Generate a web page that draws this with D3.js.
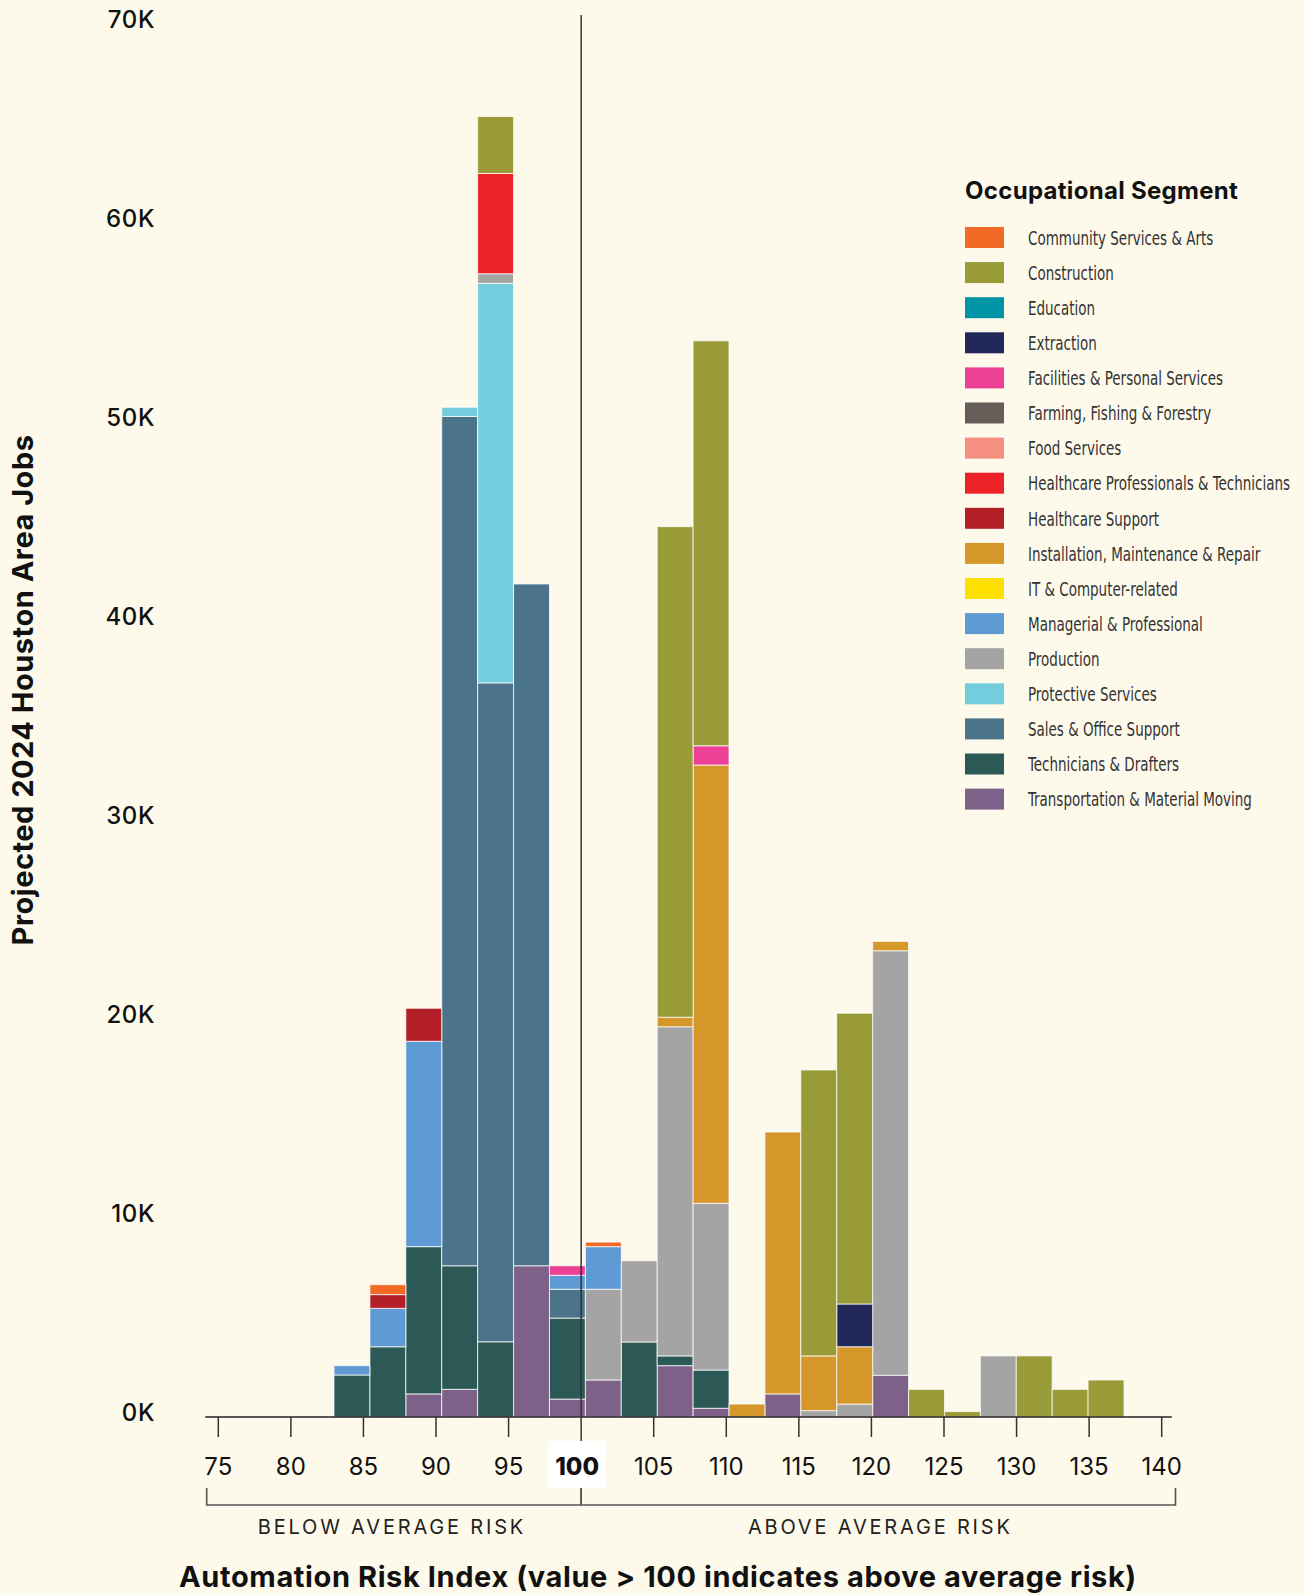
<!DOCTYPE html>
<html>
<head>
<meta charset="utf-8">
<script src="https://cdn.jsdelivr.net/npm/d3@7"></script>
<style>
  html, body { margin: 0; padding: 0; background: #FEFAEB; }
  svg { display: block; }
</style>
</head>
<body>
<svg id="chart" width="1304" height="1595"></svg>
<script>
// ---------- DATA ----------
// histogram bins (lower edge of each Automation Risk Index bin)
const bins = [82.5, 85, 87.5, 90, 92.5, 95, 97.5, 100, 102.5, 105, 107.5, 110, 112.5, 115, 117.5, 120, 122.5, 125, 127.5, 130, 132.5, 135];

// legend order (alphabetical); stacking is reverse of this order
const segments = [
  "Community Services & Arts", "Construction", "Education", "Extraction",
  "Facilities & Personal Services", "Farming, Fishing & Forestry", "Food Services",
  "Healthcare Professionals & Technicians", "Healthcare Support",
  "Installation, Maintenance & Repair", "IT & Computer-related",
  "Managerial & Professional", "Production", "Protective Services",
  "Sales & Office Support", "Technicians & Drafters", "Transportation & Material Moving"
];
const segmentColors = [
  "#F26A25", "#999A38", "#0095A5", "#22285A", "#EC4096", "#675D58", "#F58F82",
  "#EC2227", "#B31F27", "#D6972A", "#FFE100", "#5E9BD4", "#A3A4A3", "#73CDDD",
  "#4B7389", "#2C5955", "#7D6188"
];

// projected 2024 jobs per bin for each segment
const communityServices = [0, 500, 0, 0, 0, 0, 0, 230, 0, 0, 0, 0, 0, 0, 0, 0, 0, 0, 0, 0, 0, 0];
const construction      = [0, 0, 0, 0, 2860, 0, 0, 0, 0, 24650, 20350, 0, 0, 14370, 14610, 0, 1390, 270, 0, 3070, 1390, 1860];
const education         = [0, 0, 0, 0, 0, 0, 0, 0, 0, 0, 0, 0, 0, 0, 0, 0, 0, 0, 0, 0, 0, 0];
const extraction        = [0, 0, 0, 0, 0, 0, 0, 0, 0, 0, 0, 0, 0, 0, 2150, 0, 0, 0, 0, 0, 0, 0];
const facilities        = [0, 0, 0, 0, 0, 0, 480, 0, 0, 0, 970, 0, 0, 0, 0, 0, 0, 0, 0, 0, 0, 0];
const farming           = [0, 0, 0, 0, 0, 0, 0, 0, 0, 0, 0, 0, 0, 0, 0, 0, 0, 0, 0, 0, 0, 0];
const foodServices      = [0, 0, 0, 0, 0, 0, 0, 0, 0, 0, 0, 0, 0, 0, 0, 0, 0, 0, 0, 0, 0, 0];
const healthcarePros    = [0, 0, 0, 0, 5040, 0, 0, 0, 0, 0, 0, 0, 0, 0, 0, 0, 0, 0, 0, 0, 0, 0];
const healthcareSupport = [0, 690, 1660, 0, 0, 0, 0, 0, 0, 0, 0, 0, 0, 0, 0, 0, 0, 0, 0, 0, 0, 0];
const installation      = [0, 0, 0, 0, 0, 0, 0, 0, 0, 480, 22020, 650, 13160, 2750, 2880, 470, 0, 0, 0, 0, 0, 0];
const itComputer        = [0, 0, 0, 0, 0, 0, 0, 0, 0, 0, 0, 0, 0, 0, 0, 0, 0, 0, 0, 0, 0, 0];
const managerial        = [470, 1930, 10320, 0, 0, 0, 700, 2140, 0, 0, 0, 0, 0, 0, 0, 0, 0, 0, 0, 0, 0, 0];
const production        = [0, 0, 0, 0, 480, 0, 0, 4560, 4080, 16540, 8380, 0, 0, 320, 650, 21330, 0, 0, 3070, 0, 0, 0];
const protective        = [0, 0, 0, 460, 20080, 0, 0, 0, 0, 0, 0, 0, 0, 0, 0, 0, 0, 0, 0, 0, 0, 0];
const salesOffice       = [0, 0, 0, 42680, 33110, 34260, 1450, 0, 0, 0, 0, 0, 0, 0, 0, 0, 0, 0, 0, 0, 0, 0];
const technicians       = [2110, 3530, 7400, 6210, 3780, 0, 4070, 0, 3770, 490, 1920, 0, 0, 0, 0, 0, 0, 0, 0, 0, 0, 0];
const transportation    = [0, 0, 1160, 1390, 0, 7600, 900, 1860, 0, 2580, 440, 0, 1160, 0, 0, 2100, 0, 0, 0, 0, 0, 0];

const seriesValues = [communityServices, construction, education, extraction, facilities, farming,
  foodServices, healthcarePros, healthcareSupport, installation, itComputer, managerial,
  production, protective, salesOffice, technicians, transportation];

const yTicks = [0, 10000, 20000, 30000, 40000, 50000, 60000, 70000];
const yTickLabels = ["0K", "10K", "20K", "30K", "40K", "50K", "60K", "70K"];
const xTicks = [75, 80, 85, 90, 95, 100, 105, 110, 115, 120, 125, 130, 135, 140];

// ---------- BUILD ----------
const rows = bins.map((b, i) => {
  const r = { bin: b };
  segments.forEach((s, j) => { r[s] = seriesValues[j][i]; });
  return r;
});
const stackKeys = segments.slice().reverse();
const stacked = d3.stack().keys(stackKeys)(rows);
const color = d3.scaleOrdinal().domain(segments).range(segmentColors);

const svg = d3.select("#chart");
svg.append("rect").attr("width", 1304).attr("height", 1595).attr("fill", "#FEFAEB");

const baseY = 1417;
const y = d3.scaleLinear().domain([0, 70000]).range([baseY, baseY - 1393]);
const xb = d3.scaleBand().domain(bins).range([334, 1124]).paddingInner(0).paddingOuter(0);
const x = d3.scaleLinear().domain([75, 140]).range([218.3, 1161.7]);

const FONT = "Inter, Lato, 'Open Sans', sans-serif";
const NARROW = "'Liberation Sans Narrow', 'DejaVu Sans Condensed', 'Roboto Condensed', Roboto, sans-serif";

// bars
const layers = svg.append("g").selectAll("g").data(stacked).join("g")
  .attr("fill", d => color(d.key));
layers.selectAll("rect").data(d => d.filter(p => p[1] - p[0] > 0)).join("rect")
  .attr("x", d => xb(d.data.bin))
  .attr("width", xb.bandwidth())
  .attr("y", d => y(d[1]))
  .attr("height", d => y(d[0]) - y(d[1]))
  .attr("stroke", "rgba(255,255,255,0.75)")
  .attr("stroke-width", 1);

// y labels
svg.append("g").selectAll("text").data(yTicks).join("text")
  .attr("x", 155)
  .attr("y", d => y(d) - 5)
  .attr("text-anchor", "end")
  .attr("dominant-baseline", "central")
  .attr("font-family", FONT)
  .attr("font-weight", 500)
  .attr("font-size", 24)
  .attr("letter-spacing", 0.6)
  .attr("fill", "#111")
  .text((d, i) => yTickLabels[i]);

// y title
svg.append("text")
  .attr("transform", "translate(22,690) rotate(-90)")
  .attr("text-anchor", "middle")
  .attr("dominant-baseline", "central")
  .attr("font-family", FONT)
  .attr("font-weight", 700)
  .attr("font-size", 29)
  .attr("letter-spacing", 0.5)
  .attr("fill", "#111")
  .text("Projected 2024 Houston Area Jobs");

// x axis line
svg.append("line")
  .attr("x1", x(74.1)).attr("x2", x(140.7))
  .attr("y1", baseY).attr("y2", baseY)
  .attr("stroke", "#222").attr("stroke-width", 1.6);

// ticks
svg.append("g").selectAll("line").data(xTicks.filter(t => t !== 100)).join("line")
  .attr("x1", d => x(d)).attr("x2", d => x(d))
  .attr("y1", baseY).attr("y2", baseY + 20)
  .attr("stroke", "#333").attr("stroke-width", 1.5);

// vertical reference line at 100
svg.append("line")
  .attr("x1", x(100)).attr("x2", x(100))
  .attr("y1", 15).attr("y2", 1505)
  .attr("stroke", "#333").attr("stroke-width", 1.5);

// white box behind 100
svg.append("rect")
  .attr("x", x(100) - 33).attr("y", 1441)
  .attr("width", 58).attr("height", 47)
  .attr("fill", "#ffffff");

// tick labels
svg.append("g").selectAll("text").data(xTicks).join("text")
  .attr("x", d => x(d) - (d === 100 ? 4 : 0))
  .attr("y", 1466)
  .attr("text-anchor", "middle")
  .attr("dominant-baseline", "central")
  .attr("font-family", FONT)
  .attr("font-weight", d => d === 100 ? 800 : 400)
  .attr("font-size", 24)
  .attr("fill", "#111")
  .text(d => d);

// brackets
const brY = 1505, brTop = 1488;
const br = svg.append("g").attr("stroke", "#555").attr("stroke-width", 1.6).attr("fill", "none");
br.append("path").attr("d", `M${x(74.2)},${brTop}V${brY}H${x(140.95)}V${brTop}`);
br.append("line").attr("x1", x(100)).attr("x2", x(100)).attr("y1", brTop).attr("y2", brY);

svg.append("text")
  .attr("x", (x(74.2) + x(100)) / 2 - 2).attr("y", 1527)
  .attr("text-anchor", "middle").attr("dominant-baseline", "central")
  .attr("font-family", FONT).attr("font-size", 20).attr("letter-spacing", 2.8)
  .attr("fill", "#222")
  .text("BELOW AVERAGE RISK");
svg.append("text")
  .attr("x", (x(100) + x(140.95)) / 2 + 2).attr("y", 1527)
  .attr("text-anchor", "middle").attr("dominant-baseline", "central")
  .attr("font-family", FONT).attr("font-size", 20).attr("letter-spacing", 2.8)
  .attr("fill", "#222")
  .text("ABOVE AVERAGE RISK");

// x title
svg.append("text")
  .attr("x", 658).attr("y", 1576)
  .attr("text-anchor", "middle").attr("dominant-baseline", "central")
  .attr("font-family", FONT).attr("font-weight", 700).attr("font-size", 29)
  .attr("letter-spacing", 0.6)
  .attr("fill", "#111")
  .text("Automation Risk Index (value > 100 indicates above average risk)");

// legend
const lg = svg.append("g");
lg.append("text")
  .attr("x", 965).attr("y", 190)
  .attr("dominant-baseline", "central")
  .attr("font-family", FONT).attr("font-weight", 700).attr("font-size", 24)
  .attr("letter-spacing", 0.3)
  .attr("fill", "#111")
  .text("Occupational Segment");
const items = lg.selectAll("g.item").data(segments).join("g")
  .attr("class", "item")
  .attr("transform", (d, i) => `translate(965,${227 + i * 35.1})`);
items.append("rect").attr("width", 39).attr("height", 21).attr("fill", d => color(d));
items.append("text")
  .attr("transform", "translate(63,11) scale(0.75,1)")
  .attr("dominant-baseline", "central")
  .attr("font-family", NARROW).attr("font-stretch", "condensed")
  .attr("font-size", 20)
  .attr("fill", "#333")
  .text(d => d);
</script>
</body>
</html>
